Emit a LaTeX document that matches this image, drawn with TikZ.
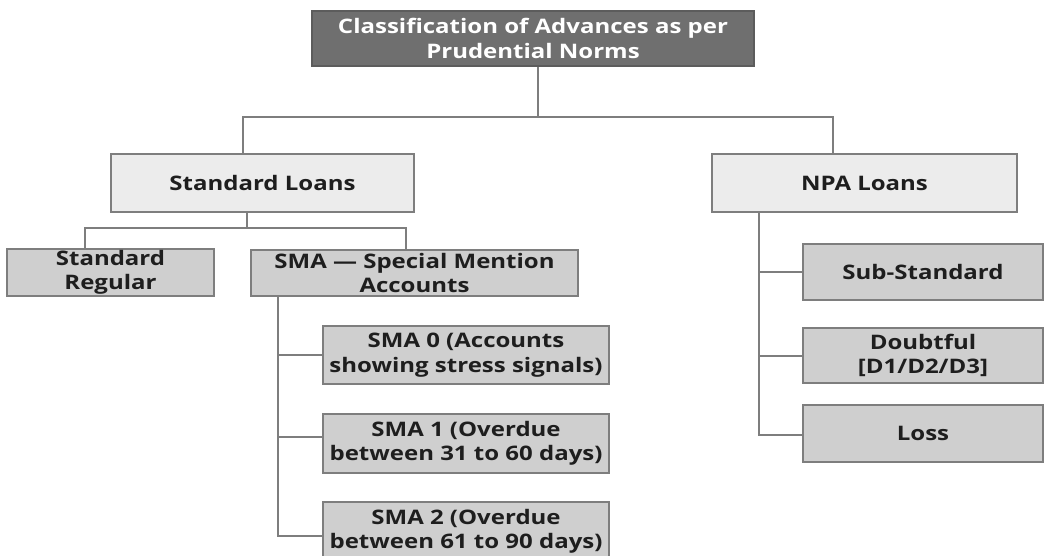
\documentclass[tikz,border=0pt]{standalone}
\usepackage{fontspec}
\setmainfont[FakeStretch=1.2]{Open Sans}
\definecolor{topfill}{HTML}{6F6F6F}
\definecolor{topdraw}{HTML}{5C5C5C}
\definecolor{lvfill}{HTML}{ECECEC}
\definecolor{lvtwo}{HTML}{CFCFCF}
\definecolor{edge}{HTML}{7E7E7E}
\definecolor{txt}{HTML}{1E1E1E}
\tikzset{
  basebox/.style={rectangle, draw=edge, line width=1.6pt, inner sep=0pt, align=center,
    font=\fontsize{20}{24.5}\selectfont\bfseries, text=txt},
  topbox/.style={basebox, fill=topfill, draw=topdraw, text=white},
  lvone/.style={basebox, fill=lvfill},
  lvbox/.style={basebox, fill=lvtwo},
  conn/.style={draw=edge, line width=1.6pt},
}
\begin{document}
\begin{tikzpicture}[x=1pt,y=-1pt]
\useasboundingbox (0,0) rectangle (1049,556);
\fill[white] (0,0) rectangle (1049,556);

\node[topbox, minimum width=442pt, minimum height=55pt] (top) at (533,38.5)
  {Classification of Advances as per\\Prudential Norms};

\node[lvone, minimum width=303pt, minimum height=58pt] (sl) at (262.5,183) {Standard Loans};
\node[lvone, minimum width=305pt, minimum height=58pt] (np) at (864.5,183) {NPA Loans};

\node[lvbox, minimum width=207pt, minimum height=47pt] (sr) at (110.5,272.5) {Standard\\Regular};
\node[lvbox, minimum width=327pt, minimum height=46pt] (sma) at (414.5,273) {SMA — Special Mention\\Accounts};

\node[lvbox, minimum width=286pt, minimum height=58pt] (smz) at (466,355) {SMA 0 (Accounts\\showing stress signals)};
\node[lvbox, minimum width=286pt, minimum height=59pt] (smo) at (466,443.5) {SMA 1 (Overdue\\between 31 to 60 days)};
\node[lvbox, minimum width=286pt, minimum height=59pt] (smt) at (466,531.5) {SMA 2 (Overdue\\between 61 to 90 days)};

\node[lvbox, minimum width=240pt, minimum height=56pt] (sub) at (923,272) {Sub-Standard};
\node[lvbox, minimum width=240pt, minimum height=55pt] (dbt) at (923,355.5) {Doubtful\\{[D1/D2/D3]}};
\node[lvbox, minimum width=240pt, minimum height=57pt] (los) at (923,433.5) {Loss};

% bus from top
\coordinate (bT) at (538,117);
\coordinate (bL) at (243,117);
\coordinate (bR) at (833,117);
\draw[conn] (top.south -| bT) -- (bT);
\draw[conn] (sl.north -| bL) -- (bL) -- (bR) -- (np.north -| bR);

% standard loans children
\coordinate (cT) at (247,228);
\coordinate (cL) at (85,228);
\coordinate (cR) at (406,228);
\draw[conn] (sl.south -| cT) -- (cT);
\draw[conn] (sr.north -| cL) -- (cL) -- (cR) -- (sma.north -| cR);

% SMA spine
\coordinate (s0) at (278,355);
\coordinate (s1) at (278,437);
\coordinate (s2) at (278,536);
\draw[conn] (sma.south -| s0) -- (s2) -- (smt.west |- s2);
\draw[conn] (s0) -- (smz.west |- s0);
\draw[conn] (s1) -- (smo.west |- s1);

% NPA spine
\coordinate (n0) at (759,272);
\coordinate (n1) at (759,356);
\coordinate (n2) at (759,435);
\draw[conn] (np.south -| n0) -- (n2) -- (los.west |- n2);
\draw[conn] (n0) -- (sub.west |- n0);
\draw[conn] (n1) -- (dbt.west |- n1);
\end{tikzpicture}
\end{document}
